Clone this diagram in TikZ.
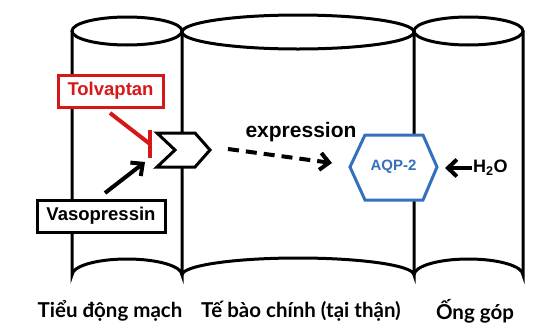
\documentclass[tikz,border=0pt]{standalone}
\usepackage{fontspec}
\setmainfont{Liberation Sans}
\newfontfamily\labfont{Lato}
\usetikzlibrary{arrows.meta}
\definecolor{tolred}{RGB}{214,24,24}
\definecolor{aqpblue}{RGB}{52,112,190}
\begin{document}
\begin{tikzpicture}[x=1pt,y=-1pt,
  cyl/.style={line width=3pt},
  txtbox/.style={draw,line width=3pt,fill=white,inner sep=4pt,font=\fontsize{18.5}{20}\selectfont\bfseries},
  bottomlab/.style={font=\labfont\fontsize{20.5}{22}\selectfont\bfseries},
  barb/.style={-{Straight Barb[length=9pt,width=17pt,line width=4pt]},line width=4pt}]
\useasboundingbox (0,0) rectangle (560,335);
% cylinders
\draw[cyl] (127,31) ellipse [x radius=55,y radius=14];
\draw[cyl] (298,32) ellipse [x radius=116,y radius=17];
\draw[cyl] (468.5,31) ellipse [x radius=54.5,y radius=14];
\draw[cyl] (72,31) -- (72,275) arc[start angle=180,end angle=360,x radius=55,y radius=16] -- (182,31);
\draw[cyl] (182,275) arc[start angle=180,end angle=360,x radius=116,y radius=17] -- (414,31);
\draw[cyl] (414,275) arc[start angle=180,end angle=360,x radius=54.5,y radius=16] -- (523,31);
% receptor chevron
\draw[line width=3pt,fill=white,line join=miter] (157,133) -- (195,133) -- (210,150) -- (195,167) -- (157,167) -- (175,150) -- cycle;
\coordinate (rec) at (210,150);
% AQP-2 hexagon
\draw[aqpblue,line width=3pt,fill=white,line join=miter] (350,167) -- (365,135) -- (423,135) -- (437,167) -- (423,200) -- (365,200) -- cycle;
\node[aqpblue,font=\fontsize{15}{17}\selectfont\bfseries] (aqp) at (393.5,167) {AQP-2};
% boxes
\node[txtbox,draw=tolred,text=tolred,minimum width=105pt,minimum height=32pt] (tol) at (110.5,91) {Tolvaptan};
\node[txtbox,minimum width=128pt,minimum height=32pt] (vaso) at (101,216) {Vasopressin};
% inhibitor
\coordinate (tolstart) at (110,113);
\coordinate (tolend) at (150,144);
\coordinate (bartop) at (150,130);
\coordinate (barbot) at (150,158);
\draw[tolred,line width=4pt] (tolstart) -- (tolend);
\draw[tolred,line width=4pt] (bartop) -- (barbot);
% vasopressin arrow
\coordinate (vstart) at (105,193);
\coordinate (vend) at (145,162);
\draw[barb] (vstart) -- (vend);
% expression dashed arrow
\coordinate (estart) at (228,149);
\coordinate (eend) at (332,163);
\draw[barb,dash pattern=on 11pt off 7pt] (estart) -- (eend);
\node[font=\fontsize{21}{23}\selectfont\bfseries] (expr) at (301,132) {expression};
% water
\node[font=\fontsize{18}{20}\selectfont\bfseries,inner sep=1pt,anchor=west] (h2o) at (472,168) {H\textsubscript{2}O};
\draw[barb] (h2o.west) -- ++(-27,0) coordinate (hend);
% bottom labels
\node[bottomlab] (l1) at (110,311) {Tiểu động mạch};
\node[bottomlab] (l2) at (301,311) {Tế bào chính (tại thận)};
\node[bottomlab] (l3) at (475,311) {Ống góp};
\end{tikzpicture}
\end{document}
